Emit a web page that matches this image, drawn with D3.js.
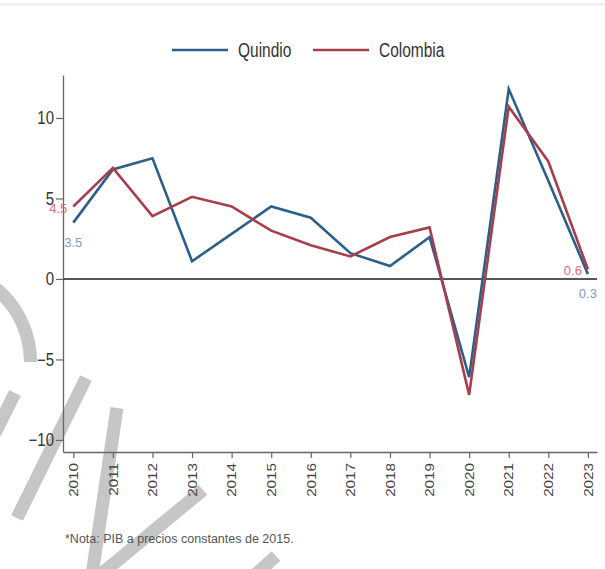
<!DOCTYPE html>
<html>
<head>
<meta charset="utf-8">
<script src="https://cdn.jsdelivr.net/npm/d3@7"></script>
<style>
  html, body { margin: 0; padding: 0; background: #fff; }
  svg { display: block; font-family: "Liberation Sans", Arial, sans-serif; }
</style>
</head>
<body>
<div id="chart"></div>
<script>
// data (PIB growth, %)
const years = [2010, 2011, 2012, 2013, 2014, 2015, 2016, 2017, 2018, 2019, 2020, 2021, 2022, 2023];
const quindio = [3.5, 6.8, 7.5, 1.1, 2.8, 4.5, 3.8, 1.6, 0.8, 2.6, -6.1, 11.8, 6.1, 0.3];
const colombia = [4.5, 6.9, 3.9, 5.1, 4.5, 3.0, 2.1, 1.4, 2.6, 3.2, -7.2, 10.7, 7.3, 0.6];
const yTicks = [-10, -5, 0, 5, 10];
const seriesNames = ['Quindio', 'Colombia'];
const note = '*Nota: PIB a precios constantes de 2015.';

const W = 605, H = 569;
const colors = { Quindio: '#2d5f8b', Colombia: '#a63f4b' };
const labelColors = { Quindio: '#7b9bc2', Colombia: '#e5687f' };

const series = [
    { name: seriesNames[0], values: quindio },
    { name: seriesNames[1], values: colombia }
];

const svg = d3.select('#chart').append('svg')
    .attr('width', W)
    .attr('height', H);

// faint top rule
svg.append('rect').attr('x', 0).attr('y', 3).attr('width', W).attr('height', 3).attr('fill', '#f1f1f1');

// watermark strokes (decoration, drawn underneath)
const wm = svg.append('g').attr('fill', 'none').attr('stroke', '#c6c6c6');
wm.append('path')
    .attr('transform', 'translate(-65,362)')
    .attr('d', d3.arc()({ innerRadius: 89, outerRadius: 102, startAngle: 0.5, endAngle: Math.PI / 2 }))
    .attr('fill', '#c6c6c6').attr('stroke', 'none');
[[[86, 378], [17, 518]], [[15, 393], [-5, 433]], [[117, 408], [92, 575]], [[203, 490], [100, 575]], [[276, 556], [255, 575]]]
    .forEach(seg => wm.append('path').attr('d', d3.line()(seg)).attr('stroke-width', 13));

const x = d3.scaleLinear().domain([2009.74, 2023.23]).range([63, 597]);
const y = d3.scaleLinear().domain([-10.75, 12.67]).range([452, 75]);

// y axis
const yAxis = svg.append('g')
    .attr('transform', `translate(${x.range()[0]},0)`)
    .call(d3.axisLeft(y).tickValues(yTicks).tickSize(7).tickSizeOuter(0));
yAxis.select('.domain').attr('stroke', '#666').attr('stroke-width', 1.3);
yAxis.selectAll('.tick line').attr('stroke', '#666').attr('stroke-width', 1.2);
yAxis.selectAll('.tick text')
    .attr('x', 0).attr('dy', '0.33em')
    .attr('transform', 'translate(-9,0) scale(1,1.2)')
    .attr('fill', '#333').style('font-size', '15px');

// x axis
const xAxis = svg.append('g')
    .attr('transform', `translate(0,${y.range()[0]})`)
    .call(d3.axisBottom(x).tickValues(years).tickFormat(d3.format('d')).tickSize(6).tickSizeOuter(0));
xAxis.select('.domain').attr('stroke', '#666').attr('stroke-width', 1.3);
xAxis.selectAll('.tick line').attr('stroke', '#666').attr('stroke-width', 1.2);
xAxis.selectAll('.tick text')
    .attr('x', -11 / 1.27).attr('y', 0).attr('dy', '0.35em')
    .attr('text-anchor', 'end')
    .attr('transform', 'rotate(-90) scale(1.27,1)')
    .attr('fill', '#444').style('font-size', '12px');

// zero line
svg.append('line')
    .attr('x1', x.range()[0]).attr('x2', x.range()[1])
    .attr('y1', y(0)).attr('y2', y(0))
    .attr('stroke', '#555').attr('stroke-width', 2);

// lines
const line = d3.line().x((d, i) => x(years[i])).y(d => y(d));
svg.append('g').selectAll('path').data(series).join('path')
    .attr('d', d => line(d.values))
    .attr('fill', 'none')
    .attr('stroke', d => colors[d.name])
    .attr('stroke-width', 2.6)
    .attr('stroke-linejoin', 'miter');

// end labels
const labels = svg.append('g').style('font-size', '13px');
series.forEach(s => {
    const ends = [0, s.values.length - 1];
    ends.forEach(i => {
        const px = x(years[i]), py = y(s.values[i]);
        const t = labels.append('text')
            .attr('fill', labelColors[s.name])
            .text(d3.format('.1f')(s.values[i]));
        if (s.name === 'Colombia') {
            t.attr('x', px - 6).attr('y', py + 6).attr('text-anchor', 'end');
        } else {
            t.attr('x', px).attr('y', py + 24).attr('text-anchor', 'middle');
        }
    });
});

// legend
const legendX = [172, 313];
const legend = svg.append('g');
series.forEach((s, i) => {
    const g = legend.append('g').attr('transform', `translate(${legendX[i]},50)`);
    g.append('line').attr('x1', 0).attr('x2', 56).attr('y1', 0).attr('y2', 0)
        .attr('stroke', colors[s.name]).attr('stroke-width', 2.6);
    g.append('text')
        .attr('transform', 'translate(66,7) scale(1,1.25)')
        .attr('fill', '#333').style('font-size', '15.5px')
        .text(s.name);
});

// note
svg.append('text')
    .attr('x', 65).attr('y', 543)
    .attr('fill', '#555').style('font-size', '12.5px')
    .text(note);
</script>
</body>
</html>
